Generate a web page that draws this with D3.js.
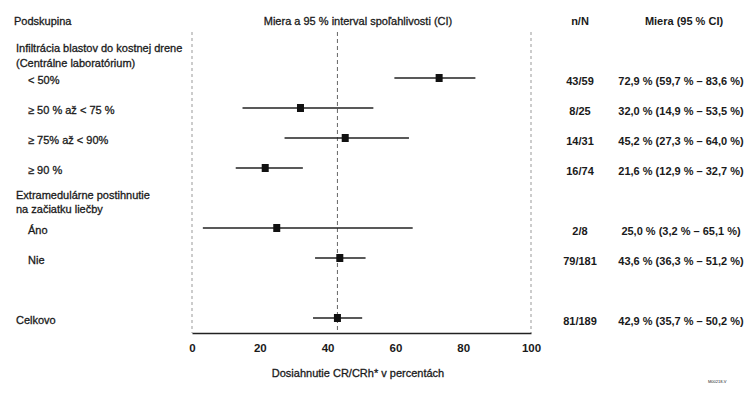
<!DOCTYPE html>
<html><head><meta charset="utf-8">
<script src="https://cdn.jsdelivr.net/npm/d3@7"></script>
<style>
body{margin:0;background:#fff;}
text{font-family:"Liberation Sans",Arial,sans-serif;fill:#1a1a1a;}
text.m{stroke:#1a1a1a;stroke-width:0.3px;}
</style></head>
<body><svg id="c" width="756" height="395"></svg>
<script>
const labels = ["Infiltrácia blastov do kostnej drene","(Centrálne laboratórium)","< 50%","≥ 50 % až < 75 %","≥ 75% až < 90%","≥ 90 %","Extramedulárne postihnutie","na začiatku liečby","Áno","Nie","Celkovo"];
const labelIndent = [0,0,1,1,1,1,0,0,1,1,0];
const rowPos = [0.93,1.43,2,3,4,5,5.83,6.3,7,8,10];
const estimates = [null,null,72.9,32.0,45.2,21.6,null,null,25.0,43.6,42.9];
const lower = [null,null,59.7,14.9,27.3,12.9,null,null,3.2,36.3,35.7];
const upper = [null,null,83.6,53.5,64.0,32.7,null,null,65.1,51.2,50.2];
const nN = ["","","43/59","8/25","14/31","16/74","","","2/8","79/181","81/189"];
const rateText = ["","","72,9 % (59,7 % – 83,6 %)","32,0 % (14,9 % – 53,5 %)","45,2 % (27,3 % – 64,0 %)","21,6 % (12,9 % – 32,7 %)","","","25,0 % (3,2 % – 65,1 %)","43,6 % (36,3 % – 51,2 %)","42,9 % (35,7 % – 50,2 %)"];
const overall = 42.9;
const xTicks = [0,20,40,60,80,100];

const svg = d3.select("#c");
const x = d3.scaleLinear().domain([0,100]).range([192,531]);
const y = d3.scaleLinear().domain([0,10]).range([18,318]);
const axisY = 333;
const topY = 32;

// headers
svg.append("text").attr("class","m").attr("x",14).attr("y",25).attr("font-size",11).text("Podskupina");
svg.append("text").attr("class","m").attr("x",358).attr("y",25).attr("text-anchor","middle").attr("font-size",11).text("Miera a 95 % interval spoľahlivosti (CI)");
svg.append("text").attr("x",580).attr("y",25).attr("text-anchor","middle").attr("font-size",11).attr("font-weight","bold").text("n/N");
svg.append("text").attr("x",684).attr("y",25).attr("text-anchor","middle").attr("font-size",11).attr("font-weight","bold").text("Miera (95 % CI)");

// dashed lines
[0,100].forEach(v=>{
  svg.append("line").attr("x1",x(v)).attr("x2",x(v)).attr("y1",topY).attr("y2",axisY)
    .attr("stroke","#999").attr("stroke-width",1).attr("stroke-dasharray","3,3");
});
svg.append("line").attr("x1",x(overall)).attr("x2",x(overall)).attr("y1",topY).attr("y2",axisY)
  .attr("stroke","#666").attr("stroke-width",1).attr("stroke-dasharray","4,3");

// axis
const ax = svg.append("g").attr("transform",`translate(0,${axisY})`)
  .call(d3.axisBottom(x).tickValues(xTicks).tickSize(0).tickPadding(11));
ax.select(".domain").attr("stroke","#222").attr("stroke-width",1.5);
ax.selectAll("text").attr("font-size",11.5).attr("font-weight","bold")
  .style("font-family","'Liberation Sans',Arial,sans-serif").attr("fill","#1a1a1a");
svg.append("text").attr("class","m").attr("x",358).attr("y",377).attr("text-anchor","middle").attr("font-size",11).text("Dosiahnutie CR/CRh* v percentách");

// labels
labels.forEach((t,i)=>{
  svg.append("text").attr("class","m").attr("x",labelIndent[i]?28:16).attr("y",y(rowPos[i])+6)
    .attr("font-size",11).text(t);
});

// CI and markers
const idx = d3.range(labels.length).filter(i=>estimates[i]!==null);
svg.selectAll("line.ci").data(idx).enter().append("line").attr("class","ci")
  .attr("x1",i=>x(lower[i])).attr("x2",i=>x(upper[i]))
  .attr("y1",i=>y(rowPos[i])).attr("y2",i=>y(rowPos[i]))
  .attr("stroke","#222").attr("stroke-width",1.5);
svg.selectAll("rect.pt").data(idx).enter().append("rect").attr("class","pt")
  .attr("x",i=>x(estimates[i])-3.5).attr("y",i=>y(rowPos[i])-4)
  .attr("width",7).attr("height",8).attr("fill","#111");

// right columns
idx.forEach(i=>{
  svg.append("text").attr("x",580).attr("y",y(rowPos[i])+7).attr("text-anchor","middle")
    .attr("font-size",11).attr("font-weight","bold").text(nN[i]);
  svg.append("text").attr("x",681).attr("y",y(rowPos[i])+7).attr("text-anchor","middle")
    .attr("font-size",11).attr("font-weight","bold").text(rateText[i]);
});
svg.append("text").attr("x",708).attr("y",383).attr("font-size",4).attr("fill","#aaa").text("M00218-V");
</script></body></html>
